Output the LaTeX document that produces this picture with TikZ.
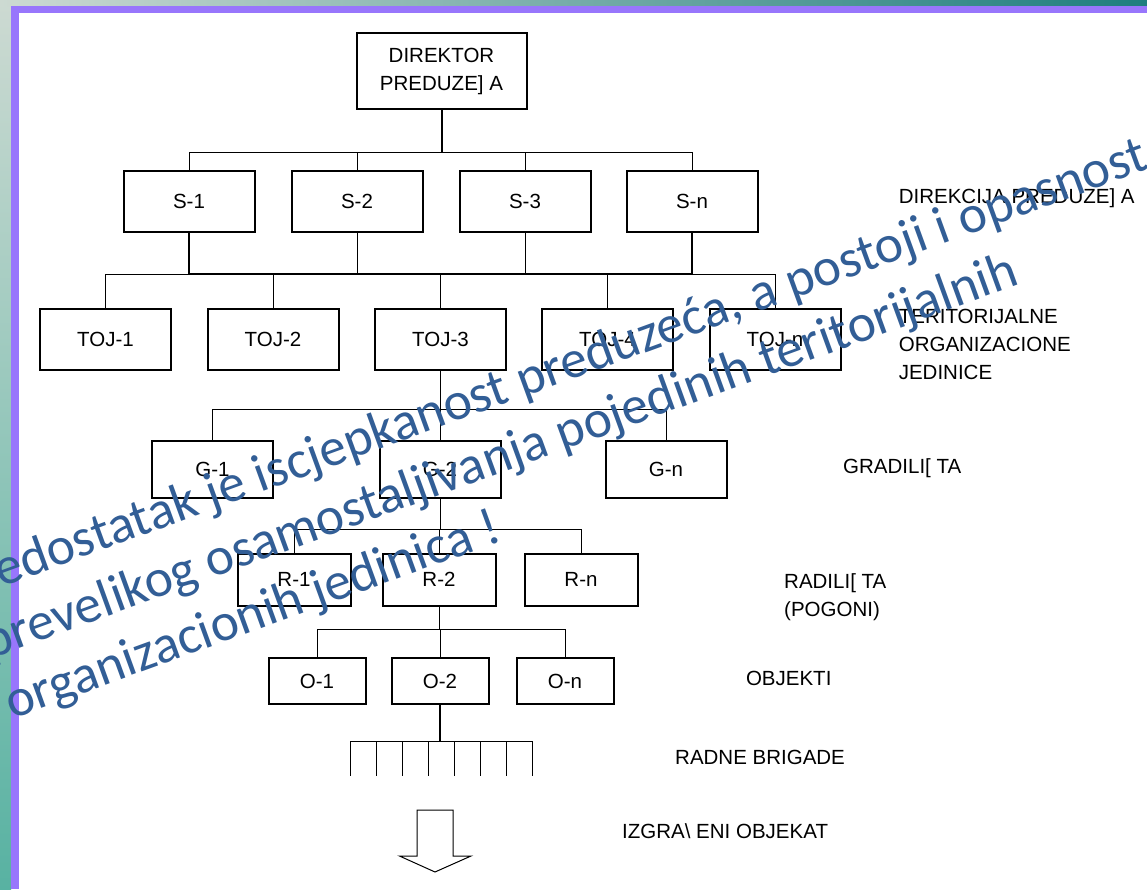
\documentclass[tikz,border=0pt]{standalone}
\usepackage{fontspec}
\setmainfont{Liberation Sans}
\newfontfamily\notefont{Carlito}
\usetikzlibrary{calc}

\definecolor{slidepurple}{RGB}{152,118,252}
\definecolor{slideteal}{RGB}{88,178,162}
\definecolor{slidelight}{RGB}{205,218,210}
\definecolor{slidedark}{RGB}{30,126,126}
\definecolor{noteblue}{RGB}{50,94,150}

\tikzset{
	orgbox/.style={draw, line width=2pt, fill=white, inner sep=0pt, align=center, font=\fontsize{20.5}{28}\selectfont},
	sbox/.style={orgbox, minimum width=131pt, minimum height=61pt},
	gbox/.style={orgbox, minimum width=121pt, minimum height=57pt},
	rbox/.style={orgbox, minimum width=113pt, minimum height=52pt},
	obox/.style={orgbox, minimum width=97pt, minimum height=46pt},
	thinline/.style={line width=1pt},
	stemline/.style={line width=2pt},
	tiertext/.style={inner sep=0pt, align=left, font=\fontsize{20.5}{28}\selectfont},
	remark/.style={inner sep=0pt, rotate=20, anchor=base west, text=noteblue, font=\notefont\fontsize{53.5}{64}\selectfont}
}

\begin{document}
\begin{tikzpicture}[x=1pt, y=-1pt]
				
				\useasboundingbox (0,0) rectangle (1147,889);
				\clip (0,0) rectangle (1147,889);
				
				% slide background and purple frame
				\shade[top color=slidelight, bottom color=slideteal] (0,0) rectangle (11,889);
				\shade[left color=slidelight, right color=slidedark] (0,0) rectangle (1147,6);
				\fill[white] (19,13) rectangle (1147,889);
				\fill[slidepurple] (11,6) rectangle (1147,13);
				\fill[slidepurple] (11,6) rectangle (19,889);
				
				% director and sectors
				\node[orgbox, minimum width=170pt, minimum height=76pt] (dir) at (441.5,71) {DIREKTOR\\PREDUZE] A};
				\node[sbox] (s1) at (189,201.5) {S-1};
				\node[sbox] (s2) at (357,201.5) {S-2};
				\node[sbox] (s3) at (525,201.5) {S-3};
				\node[sbox] (sn) at (692,201.5) {S-n};
				
				% territorial units
				\node[sbox] (t1) at (105.5,339.5) {TOJ-1};
				\node[sbox] (t2) at (273,339.5) {TOJ-2};
				\node[sbox] (t3) at (440.5,339.5) {TOJ-3};
				\node[sbox] (t4) at (607.5,339.5) {TOJ-4};
				\node[sbox] (tn) at (775,339.5) {TOJ-n};
				
				% sites, plants, objects
				\node[gbox] (g1) at (212.5,469) {G-1};
				\node[gbox] (g2) at (440,469) {G-2};
				\node[gbox] (gn) at (666,469) {G-n};
				\node[rbox] (r1) at (294,579.5) {R-1};
				\node[rbox] (r2) at (439,579.5) {R-2};
				\node[rbox] (rn) at (581,579.5) {R-n};
				\node[obox] (o1) at (317,681.3) {O-1};
				\node[obox] (o2) at (440,681.3) {O-2};
				\node[obox] (on) at (565,681.3) {O-n};
				
				% director to sectors
				\draw[thinline] (dir.south) -- ++(0,42) -| (s1.north);
				\draw[thinline] (dir.south) -- ++(0,42) -| (s2.north);
				\draw[thinline] (dir.south) -- ++(0,42) -| (s3.north);
				\draw[thinline] (dir.south) -- ++(0,42) -| (sn.north);
				\draw[stemline] (dir.south) -- ++(0,42);
				
				% sectors share one bus to the TOJ row
				\coordinate (bus) at ($(s1.south)+(0,41)$);
				\draw[thinline] (t1.north) |- (bus);
				\draw[thinline] (t2.north) |- (bus);
				\draw[thinline] (t3.north) |- (bus);
				\draw[thinline] (t4.north) |- (bus);
				\draw[thinline] (tn.north) |- (bus);
				\draw[stemline] (s1.south) -- (bus) -| (sn.south);
				\draw[thinline] (s2.south) -- (s2.south |- bus);
				\draw[thinline] (s3.south) -- (s3.south |- bus);
				
				% TOJ-3 to sites
				\draw[thinline] (t3.south) -- ++(0,38.5) -| (g1.north);
				\draw[thinline] (t3.south) -- ++(0,38.5) -| (g2.north);
				\draw[thinline] (t3.south) -- ++(0,38.5) -| (gn.north);
				
				% G-2 to plants
				\draw[thinline] (g2.south) -- ++(0,31) -| (r1.north);
				\draw[thinline] (g2.south) -- ++(0,31) -| (r2.north);
				\draw[thinline] (g2.south) -- ++(0,31) -| (rn.north);
				
				% R-2 to objects
				\draw[thinline] (r2.south) -- ++(0,23) -| (o1.north);
				\draw[thinline] (r2.south) -- ++(0,23) -| (o2.north);
				\draw[thinline] (r2.south) -- ++(0,23) -| (on.north);
				
				% work brigades as a comb under O-2
				\draw[stemline] (o2.south) -- ++(0,36) coordinate (brig);
				\draw[thinline] ($(brig)+(-89.5,0)$) -- ($(brig)+(92.5,0)$);
				\foreach \i in {0,...,7}
				\draw[thinline] ($(brig)+(-89.5+26*\i,0)$) -- ++(0,35);
				
				% finished object arrow
				\draw[thinline, fill=white] (417,810) -- (453,810) -- (453,856) -- (471,856) -- (435,872) -- (399.5,856) -- (417,856) -- cycle;
				
				% level names on the right
				\node[tiertext, anchor=base west] (dirlabel) at (898.6,203.5) {DIREKCIJA PREDUZE] A};
				\node[tiertext, anchor=north west] (tojlabel) at (898.6,309.3) {TERITORIJALNE\\ORGANIZACIONE\\JEDINICE};
				\node[tiertext, anchor=base west] (glabel) at (843,473.4) {GRADILI[ TA};
				\node[tiertext, anchor=north west] (rlabel) at (784,573.6) {RADILI[ TA\\(POGONI)};
				\node[tiertext, anchor=base west] (olabel) at (745.8,685.4) {OBJEKTI};
				\node[tiertext, anchor=base west] (blabel) at (675,764) {RADNE BRIGADE};
				\node[tiertext, anchor=base west] (alabel) at (622,838) {IZGRA\textbackslash\ ENI OBJEKAT};
				
				% slanted remark over the chart
				\node[remark] (note1) at (-31.6,599) {Nedostatak je iscjepkanost preduzeća, a postoji i opasnost};
				\node[remark] (note2) at (-9.7,659.1) {prevelikog osamostaljivanja pojedinih teritorijalnih};
				\node[remark] (note3) at (12.2,719.2) {organizacionih jedinica !};
				
			\end{tikzpicture}
\end{document}
